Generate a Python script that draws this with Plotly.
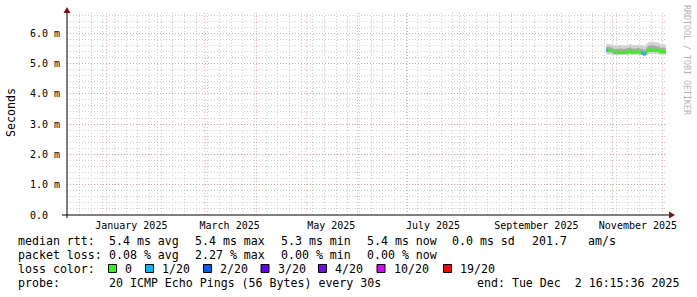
import plotly.graph_objects as go
import pandas as pd

# ---------------- data ----------------
days = pd.date_range("2025-10-28", "2025-12-02", freq="D")
end_time = pd.Timestamp("2025-12-02 16:15:36")

median_ms = [5.44, 5.44, 5.43, 5.42, 5.37, 5.37, 5.36, 5.36, 5.37, 5.37,
             5.36, 5.37, 5.37, 5.38, 5.40, 5.37, 5.38, 5.37, 5.38, 5.38,
             5.37, 5.35, 5.31, 5.32, 5.40, 5.44, 5.45, 5.44, 5.45, 5.44,
             5.44, 5.43, 5.39, 5.39, 5.39, 5.38]
loss_count = [1, 0, 0, 0, 0, 0, 0, 0, 0, 0,
              0, 0, 0, 0, 0, 0, 0, 0, 0, 0,
              0, 1, 1, 1, 0, 0, 0, 0, 0, 0,
              0, 0, 0, 0, 0, 0]
smoke_min = [5.30, 5.30, 5.30, 5.30, 5.28, 5.28, 5.28, 5.28, 5.29, 5.28,
             5.28, 5.29, 5.28, 5.29, 5.30, 5.28, 5.29, 5.28, 5.29, 5.29,
             5.28, 5.27, 5.25, 5.26, 5.29, 5.31, 5.31, 5.31, 5.32, 5.31,
             5.31, 5.30, 5.29, 5.29, 5.29, 5.28]
smoke_p10 = [5.37, 5.37, 5.37, 5.36, 5.32, 5.32, 5.31, 5.31, 5.32, 5.32,
             5.31, 5.32, 5.32, 5.33, 5.34, 5.32, 5.33, 5.32, 5.33, 5.33,
             5.32, 5.30, 5.27, 5.28, 5.34, 5.38, 5.38, 5.38, 5.39, 5.38,
             5.38, 5.37, 5.34, 5.34, 5.34, 5.33]
smoke_p90 = [5.56, 5.55, 5.54, 5.53, 5.49, 5.49, 5.48, 5.49, 5.50, 5.49,
             5.48, 5.49, 5.50, 5.51, 5.53, 5.49, 5.50, 5.49, 5.50, 5.51,
             5.49, 5.48, 5.45, 5.46, 5.54, 5.58, 5.60, 5.59, 5.60, 5.58,
             5.57, 5.56, 5.52, 5.52, 5.53, 5.51]
smoke_max = [5.66, 5.64, 5.63, 5.62, 5.60, 5.60, 5.59, 5.60, 5.61, 5.60,
             5.59, 5.60, 5.61, 5.62, 5.64, 5.60, 5.61, 5.60, 5.61, 5.62,
             5.60, 5.60, 5.58, 5.59, 5.66, 5.70, 5.72, 5.71, 5.72, 5.70,
             5.69, 5.68, 5.64, 5.63, 5.64, 5.62]

loss_levels = [0, 1, 2, 3, 4, 10, 19]
loss_labels = ["0", "1/20", "2/20", "3/20", "4/20", "10/20", "19/20"]
loss_colors = ["#26ff00", "#00b8ff", "#0059ff", "#5e00ff", "#7e00ff", "#dd00ff", "#ff0000"]

y_tickvals = [0, 1, 2, 3, 4, 5, 6]
y_ticktext = ["0.0\u00a0\u00a0", "1.0 m", "2.0 m", "3.0 m", "4.0 m", "5.0 m", "6.0 m"]
x_label_vals = ["2025-01-16", "2025-03-16", "2025-05-16", "2025-07-16", "2025-09-16", "2025-11-16"]
x_label_text = ["January 2025", "March 2025", "May 2025", "July 2025", "September 2025", "November 2025"]

rtt_stats = [("avg", 5.4), ("max", 5.4), ("min", 5.3), ("now", 5.4)]
rtt_sd = 0.0
rtt_amps = 201.7
loss_stats = [("avg", 0.08), ("max", 2.27), ("min", 0.00), ("now", 0.00)]
probe_text = "20 ICMP Echo Pings (56 Bytes) every 30s"
end_text = "end: Tue Dec  2 16:15:36 2025"

x_start = pd.Timestamp("2024-12-08 10:05")
x_end = x_start + pd.Timedelta(days=360)

# ---------------- geometry helpers (pixels -> paper) ----------------
W, H = 697, 297
L, R, T, B = 67, 667, 13, 215
def PX(x): return (x - L) / (R - L)
def PY(y): return (B - y) / (B - T)

MONO = "DejaVu Sans Mono"
fig = go.Figure()

xs = list(days) + [end_time]
def steps(v): return list(v) + [v[-1]]

bands = [(smoke_min, smoke_max, "#d2d2d2"), (smoke_p10, smoke_p90, "#a9a9a9")]
for lo, hi, col in bands:
    fig.add_trace(go.Scatter(x=xs, y=steps(lo), mode="lines", line=dict(width=0, shape="hv"),
                             hoverinfo="skip"))
    fig.add_trace(go.Scatter(x=xs, y=steps(hi), mode="lines", line=dict(width=0, shape="hv"),
                             fill="tonexty", fillcolor=col, hoverinfo="skip"))

# median segments coloured by loss (on the overlaying label axis x2)
for lvl, col in zip(loss_levels, loss_colors):
    sx, sy = [], []
    for i, (m, lc) in enumerate(zip(median_ms, loss_count)):
        if lc == lvl:
            sx += [xs[i], xs[i + 1], None]
            sy += [m, m, None]
    if sx:
        fig.add_trace(go.Scatter(x=sx, y=sy, mode="lines", line=dict(color=col, width=3),
                                 xaxis="x2", yaxis="y"))

grid_major = "rgba(240,120,120,0.55)"
grid_minor = "rgba(190,190,190,0.75)"
dots = "1px,2px"

fig.update_layout(
    width=W, height=H, margin=dict(l=L, r=W - R, t=T, b=H - B),
    paper_bgcolor="white", plot_bgcolor="white", showlegend=False,
    xaxis=dict(type="date", range=[x_start, x_end], tickmode="linear", tick0="2025-01-01",
               dtick="M1", showticklabels=False, showgrid=True, gridcolor=grid_major,
               griddash=dots, gridwidth=1, zeroline=False, showline=False, ticks="",
               minor=dict(tickmode="linear", tick0="2024-12-09", dtick=7 * 86400000,
                          showgrid=True, gridcolor=grid_minor, griddash=dots, gridwidth=1)),
    xaxis2=dict(type="date", overlaying="x", anchor="y", side="bottom", range=[x_start, x_end],
                tickmode="array", tickvals=x_label_vals, ticktext=x_label_text,
                showgrid=False, zeroline=False, showline=False, ticks="outside", ticklen=1,
                tickcolor="rgba(0,0,0,0)", tickfont=dict(family=MONO, size=10, color="black")),
    yaxis=dict(range=[0, (B - T) / 30.3], tickmode="array", tickvals=y_tickvals,
               ticktext=y_ticktext, showgrid=True, gridcolor=grid_major, griddash=dots,
               gridwidth=1, zeroline=False, showline=False, ticks="outside", ticklen=4,
               tickcolor="rgba(0,0,0,0)", tickfont=dict(family=MONO, size=10, color="black"),
               minor=dict(tickmode="linear", tick0=0, dtick=0.2, showgrid=True,
                          gridcolor=grid_minor, griddash=dots, gridwidth=1)),
)

shapes = []
shapes.append(dict(type="line", xref="paper", yref="paper", x0=PX(62), x1=PX(670),
                   y0=0, y1=0, line=dict(color="black", width=1)))
shapes.append(dict(type="line", xref="paper", yref="paper", x0=0, x1=0,
                   y0=PY(218), y1=PY(11), line=dict(color="black", width=1)))
arrow_col = "#7f1010"
shapes.append(dict(type="path", xref="paper", yref="paper",
                   path=f"M {PX(67)} {PY(7)} L {PX(63.5)} {PY(13)} L {PX(70.5)} {PY(13)} Z",
                   fillcolor=arrow_col, line=dict(color=arrow_col, width=0)))
shapes.append(dict(type="path", xref="paper", yref="paper",
                   path=f"M {PX(675)} {PY(215)} L {PX(669)} {PY(211.5)} L {PX(669)} {PY(218.5)} Z",
                   fillcolor=arrow_col, line=dict(color=arrow_col, width=0)))

ann = []
def text(s, x, y, anchor="left", size=11.6, color="black", angle=0, family=MONO):
    ann.append(dict(text=s.replace(" ", "\u00a0"), xref="paper", yref="paper", x=PX(x), y=PY(y),
                    xanchor=anchor, yanchor="middle", showarrow=False, textangle=angle,
                    font=dict(family=family, size=size, color=color)))

text("Seconds", 11, 113, anchor="center", size=11.6, angle=-90)
text("RRDTOOL / TOBI OETIKER", 687, 60, anchor="center", size=8.3, color="#b4b4b4", angle=90)

col_x = [107, 192.7, 279.3, 365]
text("median rtt:", 16, 241.5)
for (name, v), x in zip(rtt_stats, col_x):
    text(f"{v:.1f} ms {name}", x, 241.5)
text(f"{rtt_sd:.1f} ms sd", 450, 241.5)
text(f"{rtt_amps:.1f}", 530, 241.5)
text("am/s", 586, 241.5)

text("packet loss:", 16, 255)
for (name, v), x in zip(loss_stats, col_x):
    text(f"{v:.2f} % {name}", x, 255)

text("loss color:", 16, 269)
box_x = [108.5, 145.5, 203.5, 261, 318.5, 377, 443.5]
for bx, lab, col in zip(box_x, loss_labels, loss_colors):
    shapes.append(dict(type="rect", xref="paper", yref="paper", x0=PX(bx), x1=PX(bx + 8),
                       y0=PY(264.5), y1=PY(272.5), fillcolor=col, line=dict(color="black", width=1)))
    text(lab, bx + 14.5, 269)

text("probe:", 16, 283)
text(probe_text, 107, 283)
text(end_text, 680.5, 283, anchor="right")

fig.update_layout(shapes=shapes, annotations=ann)
fig.write_html("out.html")
